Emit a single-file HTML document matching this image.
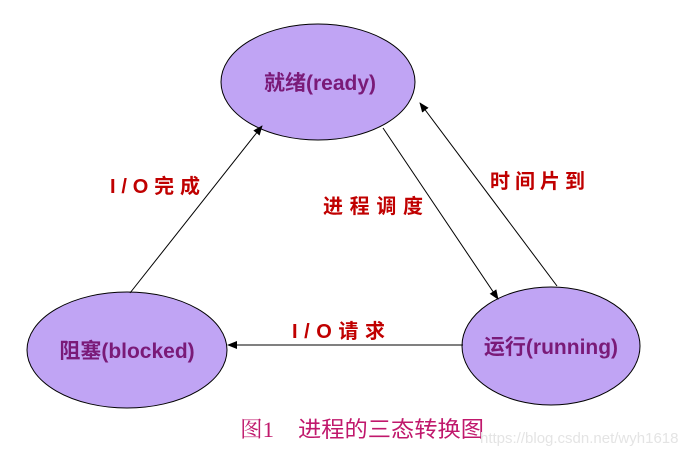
<!DOCTYPE html>
<html><head><meta charset="utf-8"><style>
body{margin:0;background:#fff;width:699px;height:458px;overflow:hidden}
</style></head><body>
<svg width="699" height="458" xmlns="http://www.w3.org/2000/svg">
<defs><marker id="a" markerWidth="10" markerHeight="8" refX="9" refY="4" orient="auto" markerUnits="userSpaceOnUse"><path d="M0,0 L10,4 L0,8 z" fill="#000"/></marker></defs>
<ellipse cx="318" cy="82" rx="97" ry="58" fill="#c0a4f4" stroke="#000" stroke-width="1"/>
<ellipse cx="127" cy="350" rx="100" ry="58" fill="#c0a4f4" stroke="#000" stroke-width="1"/>
<ellipse cx="551" cy="346" rx="89" ry="59" fill="#c0a4f4" stroke="#000" stroke-width="1"/>
<g stroke="#000" stroke-width="1" fill="none">
<line x1="130" y1="293" x2="262" y2="126" marker-end="url(#a)"/>
<line x1="383" y1="128" x2="498" y2="299" marker-end="url(#a)"/>
<line x1="557" y1="286" x2="420" y2="103" marker-end="url(#a)"/>
<line x1="463" y1="345" x2="228" y2="345" marker-end="url(#a)"/>
</g>
<g font-family="Liberation Sans, Noto Sans CJK SC, sans-serif" font-weight="bold" font-size="21" fill="#7a1a78" text-anchor="middle">
<text x="320" y="90">就绪(ready)</text>
<text x="127" y="358">阻塞(blocked)</text>
<text x="551" y="354">运行(running)</text>
</g>
<g font-family="Liberation Sans, Noto Sans CJK SC, sans-serif" font-weight="bold" font-size="20" fill="#c00000">
<text x="110" y="193" textLength="90" lengthAdjust="spacing">I/O完成</text>
<text x="323" y="213" textLength="100" lengthAdjust="spacing">进程调度</text>
<text x="490" y="188" textLength="95" lengthAdjust="spacing">时间片到</text>
<text x="292" y="338" textLength="93" lengthAdjust="spacing">I/O请求</text>
</g>
<text x="240" y="437" font-family="Liberation Serif, Noto Serif CJK SC, serif" font-size="22" fill="#c0186c" textLength="34" lengthAdjust="spacingAndGlyphs">图1</text>
<text x="298" y="437" font-family="Liberation Sans, Noto Sans CJK SC, sans-serif" font-size="22" fill="#c0186c" textLength="186" lengthAdjust="spacingAndGlyphs">进程的三态转换图</text>
<text x="480" y="443" font-family="Liberation Sans, sans-serif" font-size="15" fill="#e4e4e4">https://blog.csdn.net/wyh1618</text>
</svg>
</body></html>
